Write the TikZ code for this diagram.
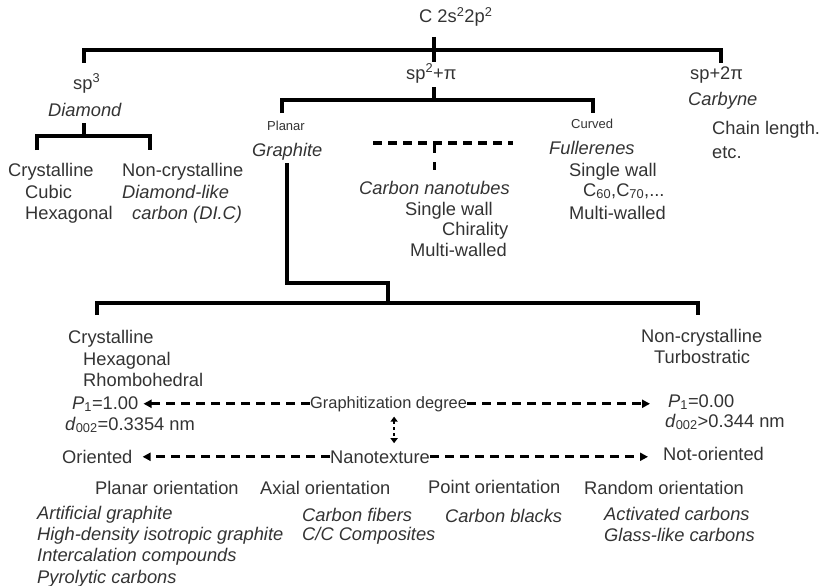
\documentclass[tikz,border=0pt]{standalone}
\usepackage{fontspec}
\setmainfont{Liberation Sans}
\usetikzlibrary{arrows.meta}

\begin{document}
\begin{tikzpicture}[x=1pt, y=-1pt,
    every node/.style={inner sep=0pt, anchor=base west, text=black!80, font=\fontsize{18.3}{21}\selectfont},
    itl/.style={font=\fontsize{18.3}{21}\selectfont\itshape},
    small/.style={font=\fontsize{13}{15}\selectfont},
    branch/.style={line width=4pt},
    dashbranch/.style={line width=4pt, dash pattern=on 9pt off 6pt},
    darrow/.style={line width=3pt, dash pattern=on 9pt off 6pt, -{Triangle[length=8pt,width=8pt]}},
    vdot/.style={line width=2.5pt, dash pattern=on 3pt off 3pt, {Triangle[length=5pt,width=7pt]}-{Triangle[length=5pt,width=7pt]}},
]
\useasboundingbox (0,0) rectangle (822,586);

% hybridization
\node (root) at (419,23) {C 2s\textsuperscript{2}2p\textsuperscript{2}};
\node (sp3) at (73,89) {sp\textsuperscript{3}};
\node (sp2) at (406,79) {sp\textsuperscript{2}+π};
\node (sp1) at (690,79) {sp+2π};
\coordinate (r0) at (434,37); \coordinate (r1) at (434,62);
\coordinate (l0) at (84,63);  \coordinate (l1) at (721,63);
\draw[branch] (l0) |- (l1 |- 0,50) -- (l1);
\draw[branch] (r0) -- (r1);

% diamond
\node[itl] (dia) at (48,116) {Diamond};
\node (cry1) at (8,176) {Crystalline};
\node (cub) at (25,198) {Cubic};
\node (hex1) at (25,219) {Hexagonal};
\node (ncry1) at (122,176) {Non-crystalline};
\node[itl] (dlc1) at (122,198) {Diamond-like};
\node[itl] (dlc2) at (132,219) {carbon (DI.C)};
\coordinate (d0) at (84,123); \coordinate (d1) at (84,136);
\coordinate (d2) at (37,150); \coordinate (d3) at (150,150);
\draw[branch] (d0) -- (d1);
\draw[branch] (d2) |- (d1) -| (d3);

% sp2 carbons
\coordinate (s0) at (434,87); \coordinate (s1) at (434,100);
\coordinate (s2) at (282,113); \coordinate (s3) at (593,113);
\draw[branch] (s0) -- (s1);
\draw[branch] (s2) |- (s1) -| (s3);
\node[small] (planar) at (267,130) {Planar};
\node[itl] (graphite) at (252,156) {Graphite};
\node[small] (curved) at (571,128) {Curved};
\node[itl] (ful) at (549,154) {Fullerenes};
\node (ful1) at (569,176) {Single wall};
\node (ful2) at (583,196) {C\textsubscript{60},C\textsubscript{70},...};
\node (ful3) at (569,219) {Multi-walled};
\node[itl] (cnt) at (359,194) {Carbon nanotubes};
\node (cnt1) at (405,215) {Single wall};
\node (cnt2) at (442,235) {Chirality};
\node (cnt3) at (410,256) {Multi-walled};
\coordinate (n0) at (373,143); \coordinate (n1) at (513,143);
\coordinate (n2) at (434,153); \coordinate (n3) at (434,162); \coordinate (n4) at (434,170);
\draw[dashbranch] (n0) -- (n1);
\draw[line width=3pt] (n2 |- n0) -- (n2);
\draw[line width=3pt] (n3) -- (n4);

% carbyne
\node[itl] (carbyne) at (688,105) {Carbyne};
\node (chain) at (712,134) {Chain length.};
\node (etc) at (712,158) {etc.};

% graphite family
\coordinate (g0) at (287,163); \coordinate (g1) at (388,283);
\coordinate (b0) at (97,315); \coordinate (b1) at (698,315);
\draw[branch] (g0) |- (g1) -- (g1 |- 0,303);
\draw[branch] (b0) |- (g1 |- 0,303) -| (b1);
\node (cry2) at (68,343) {Crystalline};
\node (hex2) at (83,365) {Hexagonal};
\node (rho) at (83,386) {Rhombohedral};
\node (ncry2) at (641,342) {Non-crystalline};
\node (turbo) at (654,363) {Turbostratic};

% structure parameters
\node (p1a) at (72,409) {\textit{P}\textsubscript{1}=1.00};
\node (da) at (65,430) {\textit{d}\textsubscript{002}=0.3354 nm};
\node[font=\fontsize{16.4}{19}\selectfont] (graph) at (310,408) {Graphitization degree};
\node (p1b) at (668,407) {\textit{P}\textsubscript{1}=0.00};
\node (db) at (665,427) {\textit{d}\textsubscript{002}>0.344 nm};
\draw[darrow] (graph.west) -- ([xshift=5pt]graph.west -| p1a.east);
\draw[darrow] (graph.east) -- ([xshift=-18pt]graph.east -| p1b.west);

% nanotexture
\node (ori) at (62,463) {Oriented};
\node (nano) at (330,463) {Nanotexture};
\node (nori) at (663,460) {Not-oriented};
\draw[darrow] (nano.west) -- ([xshift=10pt]nano.west -| ori.east);
\draw[darrow] (nano.east) -- ([xshift=-15pt]nano.east -| nori.west);
\draw[vdot, shorten <=5pt, shorten >=7pt] ([xshift=5.5pt]graph.south) -- ([xshift=5.5pt]graph.south |- nano.north);

% orientation schemes
\node (po1) at (95,494) {Planar orientation};
\node (po2) at (260,494) {Axial orientation};
\node (po3) at (428,493) {Point orientation};
\node (po4) at (584,494) {Random orientation};
\node[itl] (e1) at (37,519) {Artificial graphite};
\node[itl] (e2) at (37,540) {High-density isotropic graphite};
\node[itl] (e3) at (37,561) {Intercalation compounds};
\node[itl] (e4) at (37,583) {Pyrolytic carbons};
\node[itl] (cf) at (302,521) {Carbon fibers};
\node[itl] (cc) at (302,540) {C/C Composites};
\node[itl] (cb) at (445,522) {Carbon blacks};
\node[itl] (ac) at (604,520) {Activated carbons};
\node[itl] (gl) at (604,541) {Glass-like carbons};
\end{tikzpicture}
\end{document}
